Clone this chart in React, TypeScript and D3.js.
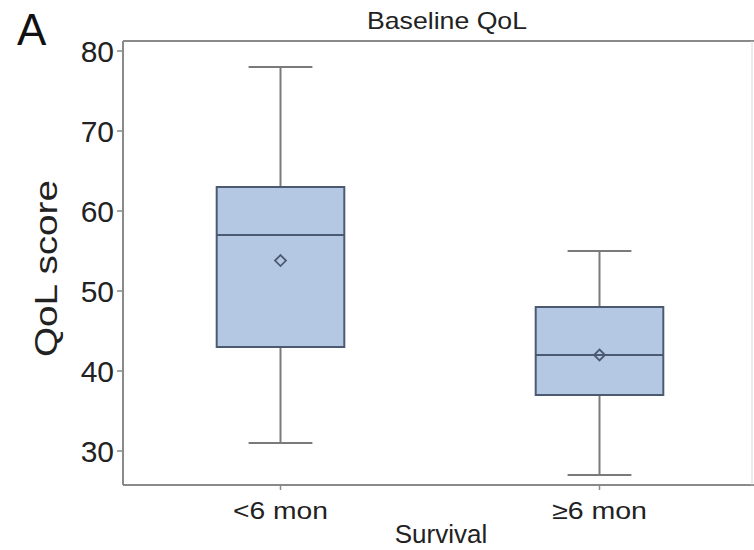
import React from "react";
import * as d3 from "d3";

const categories = ["<6 mon", "\u22656 mon"];
const whiskerLow = [31, 27];
const q1 = [43, 37];
const median = [57, 42];
const q3 = [63, 48];
const whiskerHigh = [78, 55];
const means = [53.8, 42];
const yTicks = [30, 40, 50, 60, 70, 80];

const W = 754;
const H = 550;
const frame = { left: 123, right: 752, top: 41, bottom: 485 };

export default function App() {
  const y = d3.scaleLinear().domain([25.75, 81.25]).range([frame.bottom, frame.top]);
  const x = d3.scaleBand().domain(categories).range([121, 759]).paddingInner(0).paddingOuter(0);
  const bw = x.bandwidth() * 0.4;
  const capW = bw / 2;
  const font = "'Liberation Sans', Arial, Helvetica, sans-serif";
  const axisColor = "#8a8a8a";
  const boxStroke = "#4b5a70";
  const whiskerColor = "#7a7a7a";

  return (
    <svg width={W} height={H} style={{ position: "absolute", left: 0, top: 0 }} fontFamily={font}>
      <rect x={0} y={0} width={W} height={H} fill="#fff" />
      <text x={17} y={45} fontSize={44} fill="#111">A</text>
      <text x={447} y={29} fontSize={24} textAnchor="middle" fill="#222" textLength={160} lengthAdjust="spacingAndGlyphs">Baseline QoL</text>

      {categories.map((c, i) => {
        const cx = (x(c) as number) + x.bandwidth() / 2;
        const m = y(means[i]);
        const d = 5.5;
        return (
          <g key={c}>
            <line x1={cx} x2={cx} y1={y(whiskerHigh[i])} y2={y(q3[i])} stroke={whiskerColor} strokeWidth={2} />
            <line x1={cx} x2={cx} y1={y(q1[i])} y2={y(whiskerLow[i])} stroke={whiskerColor} strokeWidth={2} />
            <line x1={cx - capW / 2} x2={cx + capW / 2} y1={y(whiskerHigh[i])} y2={y(whiskerHigh[i])} stroke={whiskerColor} strokeWidth={2} />
            <line x1={cx - capW / 2} x2={cx + capW / 2} y1={y(whiskerLow[i])} y2={y(whiskerLow[i])} stroke={whiskerColor} strokeWidth={2} />
            <rect x={cx - bw / 2} y={y(q3[i])} width={bw} height={y(q1[i]) - y(q3[i])} fill="#b5c8e3" stroke={boxStroke} strokeWidth={2} />
            <line x1={cx - bw / 2} x2={cx + bw / 2} y1={y(median[i])} y2={y(median[i])} stroke={boxStroke} strokeWidth={2} />
            <path d={`M${cx},${m - d}L${cx + d},${m}L${cx},${m + d}L${cx - d},${m}Z`} fill="none" stroke={boxStroke} strokeWidth={1.8} />
          </g>
        );
      })}

      {/* frame */}
      <line x1={frame.left} x2={frame.right + 2} y1={frame.top} y2={frame.top} stroke={axisColor} strokeWidth={2} />
      <line x1={frame.left} x2={frame.right + 2} y1={frame.bottom} y2={frame.bottom} stroke={axisColor} strokeWidth={2} />
      <line x1={frame.left} x2={frame.left} y1={frame.top} y2={frame.bottom} stroke={axisColor} strokeWidth={2} />
      <line x1={frame.right} x2={frame.right} y1={frame.top} y2={frame.bottom} stroke="#d8d8d8" strokeWidth={1} />

      {yTicks.map((t) => (
        <g key={t}>
          <line x1={frame.left - 6} x2={frame.left} y1={y(t)} y2={y(t)} stroke={axisColor} strokeWidth={1.5} />
          <text x={frame.left - 9} y={y(t)} dy="0.36em" fontSize={30} textAnchor="end" fill="#222">{t}</text>
        </g>
      ))}

      {categories.map((c) => {
        const cx = (x(c) as number) + x.bandwidth() / 2;
        return (
          <g key={"xt" + c}>
            <line x1={cx} x2={cx} y1={frame.bottom} y2={frame.bottom + 5} stroke={axisColor} strokeWidth={1.5} />
            <text x={cx} y={519} fontSize={24} textAnchor="middle" fill="#222" textLength={95} lengthAdjust="spacingAndGlyphs">{c}</text>
          </g>
        );
      })}

      <text x={441} y={543} fontSize={26} textAnchor="middle" fill="#222">Survival</text>
      <text transform={`translate(57,268.5) rotate(-90)`} fontSize={31} textAnchor="middle" fill="#222" textLength={177} lengthAdjust="spacingAndGlyphs">QoL score</text>
    </svg>
  );
}
